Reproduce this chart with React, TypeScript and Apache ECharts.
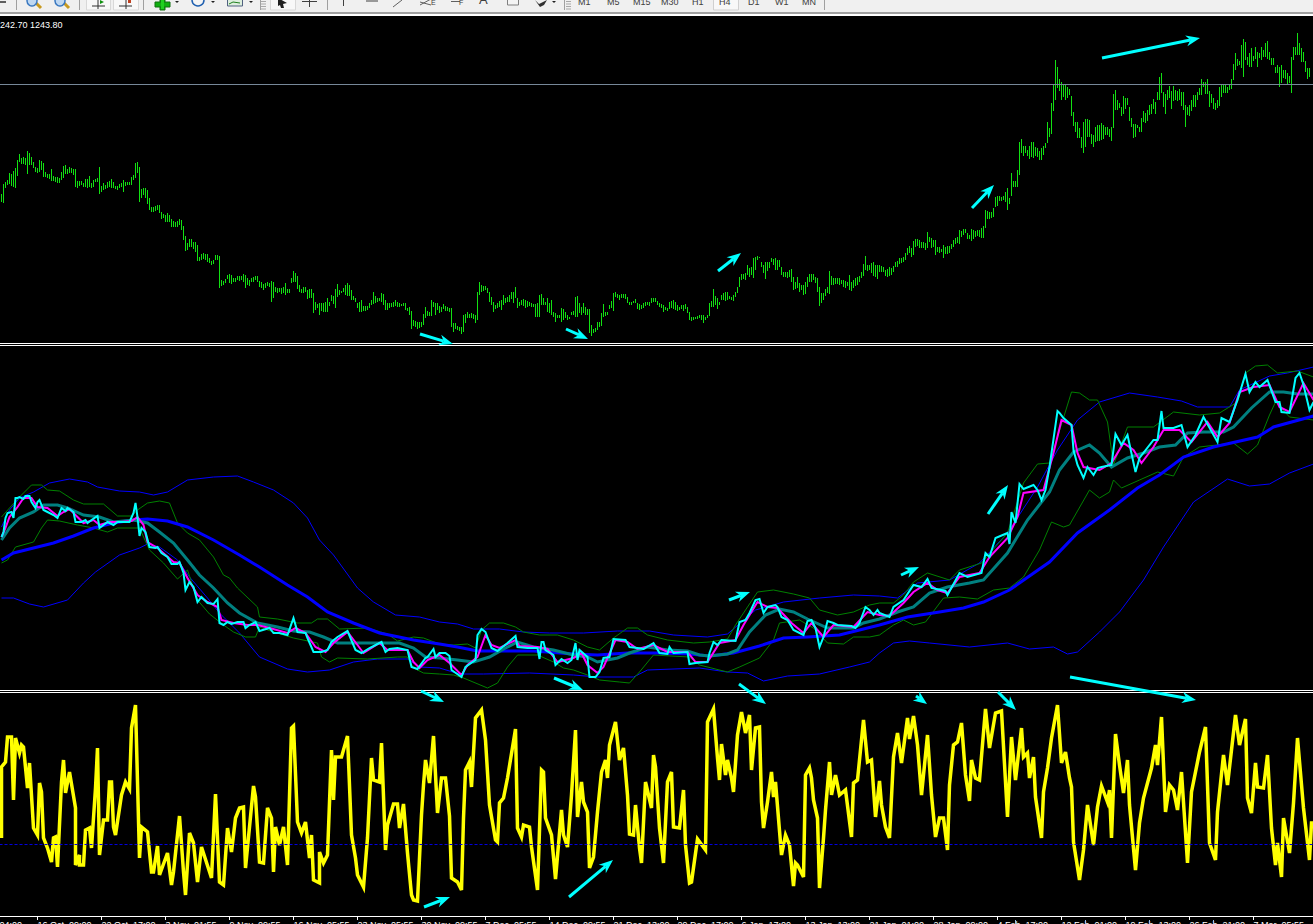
import React, { useEffect, useRef } from "react";
import * as echarts from "echarts";

// Price bars: [high, low], in points above the floor of the price pane, one pair per 4-hour bar.
const barsA = [
[149,141],[159,140],[161,155],[163,158],[170,159],[169,157],[172,156],[175,155],[183,167],[189,181],[185,179],[186,179],[185,178],[192,169],[190,178],[186,178],[181,175],[176,171],[175,170],[183,171],
[182,173],[180,166],[171,166],[169,165],[169,164],[174,162],[167,162],[166,161],[166,160],[165,160],[171,163],[177,165],[178,169],[174,169],[176,170],[175,170],[174,168],[174,156],[162,155],[162,157],
[162,158],[160,156],[164,156],[164,155],[167,156],[160,155],[163,156],[164,161],[165,161],[176,149],[157,151],[160,153],[158,154],[161,155],[162,156],[164,155],[161,155],[157,154],[157,153],[159,155],
[160,156],[163,151],[161,157],[161,158],[161,158],[166,158],[168,163],[180,165],[181,170],[176,141],[154,145],[155,148],[155,145],[153,139],[145,133],[136,131],[136,131],[137,132],[138,133],[138,130],
[131,124],[129,125],[128,121],[130,121],[128,121],[124,116],[122,116],[121,116],[122,116],[124,118],[123,113],[117,103],[107,92],[100,93],[104,96],[104,96],[101,94],[101,91],[98,82],[86,82],
[89,83],[90,84],[89,83],[89,81],[85,80],[82,78],[83,79],[88,83],[88,83],[87,55],[63,57],[62,58],[64,60],[68,64],[69,60],[68,59],[65,61],[65,61],[67,63],[67,62],
[67,63],[69,61],[68,55],[65,58],[63,57],[65,61],[66,61],[67,63],[67,61],[62,56],[61,55],[59,53],[60,55],[61,57],[60,56],[62,41],[61,45],[56,51],[55,50],[55,51],
[55,49],[56,50],[60,48],[54,50],[54,50],[65,60],[72,61],[70,61],[67,54],[58,51],[54,50],[56,50],[56,51],[53,44],[54,45],[54,45],[50,30],[41,33],[39,35],[40,28],
[40,32],[40,31],[41,31],[45,31],[41,37],[48,42],[47,39],[54,35],[59,46],[53,48],[52,50],[55,51],[58,48],[60,47],[58,47],[53,43],[47,43],[45,41],[40,35],[41,31],
[43,31],[37,32],[37,32],[37,33],[40,35],[43,38],[51,39],[47,40],[45,41],[45,42],[50,41],[49,38],[43,33],[40,33],[40,35],[40,36],[41,36],[43,37],[41,36],[40,36],
[39,37],[40,37],[40,33],[35,32],[36,28],[32,14],[23,17],[22,16],[21,14],[21,15],[21,16],[29,18],[36,25],[32,27],[31,27],[43,27],[41,36],[40,28],[40,33],[37,30],
[36,31],[39,34],[37,32],[36,32],[35,31],[35,16],[20,11],[20,14],[17,13],[16,12],[16,9],[28,11],[29,20],[31,25],[29,25],[30,25],[29,24],[28,20],[51,23],[61,48],
];
const barsB = [
[58,51],[57,52],[57,53],[55,50],[51,41],[46,38],[41,31],[38,34],[40,35],[42,36],[43,33],[48,38],[45,40],[46,41],[48,41],[51,44],[51,40],[56,45],[45,35],[41,37],
[43,38],[44,37],[43,35],[42,36],[41,37],[40,36],[39,36],[39,26],[40,26],[48,26],[49,38],[45,38],[41,38],[45,31],[40,30],[43,28],[31,26],[30,21],[28,25],[28,25],
[35,21],[34,23],[31,25],[28,23],[26,24],[31,28],[32,28],[46,26],[47,26],[40,30],[36,28],[40,30],[36,28],[34,28],[34,10],[18,7],[14,10],[15,11],[21,13],[21,16],
[30,17],[39,26],[31,27],[31,28],[38,34],[42,35],[50,32],[51,46],[49,45],[48,43],[49,45],[49,45],[49,44],[46,40],[41,38],[41,38],[42,40],[44,40],[40,34],[39,33],
[38,34],[40,35],[41,37],[41,38],[41,37],[45,40],[45,41],[45,41],[42,38],[40,36],[39,35],[38,31],[36,33],[35,32],[41,34],[42,35],[43,34],[41,33],[38,32],[36,33],
[38,34],[38,32],[39,34],[36,30],[31,23],[26,22],[26,23],[26,24],[27,24],[28,25],[28,23],[28,20],[26,23],[28,25],[40,27],[42,36],[54,36],[47,38],[45,34],[41,38],
[48,43],[50,43],[51,42],[51,43],[47,44],[46,43],[48,42],[51,46],[56,50],[66,56],[69,63],[69,64],[70,63],[78,68],[75,66],[76,68],[85,65],[86,73],[87,83],[86,85],
[81,76],[78,70],[81,64],[81,72],[81,75],[85,81],[84,78],[85,73],[83,73],[83,76],[76,68],[71,66],[71,66],[71,65],[73,66],[74,61],[66,53],[61,54],[66,55],[60,51],
[58,53],[58,48],[61,49],[66,56],[69,61],[69,61],[69,63],[66,60],[65,51],[56,37],[50,40],[50,43],[54,47],[56,50],[72,49],[67,58],[65,58],[65,59],[65,59],[65,58],
[63,59],[63,56],[62,55],[61,57],[68,53],[61,52],[63,55],[65,57],[66,58],[67,61],[71,65],[79,67],[87,73],[78,72],[78,73],[80,70],[81,67],[78,66],[78,64],[78,71],
[77,71],[76,71],[73,67],[74,66],[76,67],[75,68],[77,71],[81,76],[82,76],[85,79],[85,80],[86,81],[90,83],[95,88],[97,90],[95,86],[102,88],[104,96],[104,97],[103,95],
[101,95],[101,95],[100,93],[111,95],[106,101],[105,95],[103,96],[103,88],[96,91],[96,90],[94,91],[98,85],[96,89],[97,89],[97,90],[99,94],[103,96],[105,99],[106,100],[113,99],
[112,106],[114,108],[114,110],[110,104],[108,104],[114,102],[113,104],[112,106],[113,107],[113,106],[115,105],[117,105],[133,115],[132,124],[131,124],[131,125],[135,126],[146,136],[147,137],[147,142],
[146,142],[147,143],[151,141],[155,133],[145,139],[170,147],[162,156],[162,156],[173,156],[201,168],[204,190],[197,187],[197,190],[193,187],[197,184],[201,186],[201,185],[196,187],[195,186],
];
const barsC = [
[192,183],[195,183],[197,188],[200,195],[221,200],[215,206],[240,209],[258,232],[283,243],[276,255],[264,252],[261,243],[259,246],[258,243],[256,245],[254,248],[247,227],[231,217],[221,211],[221,205],
[215,205],[206,195],[221,190],[224,196],[224,206],[223,206],[209,199],[208,196],[216,201],[218,202],[218,202],[220,203],[218,204],[216,208],[216,208],[214,206],[216,202],[249,215],[253,233],[243,233],
[240,235],[236,227],[247,229],[245,234],[245,238],[236,222],[225,216],[219,205],[219,206],[218,215],[216,211],[225,211],[232,221],[230,220],[233,222],[238,228],[239,229],[244,234],[241,229],[251,243],
[266,243],[270,250],[251,236],[249,229],[253,243],[257,245],[252,234],[257,242],[253,243],[252,242],[254,243],[251,237],[251,233],[238,216],[236,228],[238,227],[243,232],[248,236],[248,236],[251,243],
[255,248],[264,248],[261,256],[261,249],[264,249],[252,236],[249,240],[245,234],[240,233],[243,235],[256,237],[258,246],[258,250],[258,250],[256,250],[258,253],[264,254],[279,263],[290,273],[284,277],
[282,278],[298,275],[304,266],[301,283],[286,278],[290,276],[295,276],[287,282],[296,284],[291,276],[290,285],[296,283],[293,286],[300,286],[302,284],[291,283],[285,278],[285,278],[276,270],[278,270],
[276,256],[278,260],[273,265],[273,264],[270,258],[267,260],[286,250],[296,283],[296,288],[310,288],[300,288],[295,281],[291,281],[282,271],[275,264],[275,266],
];
const lastPriceLevel = 258.5;

// Indicator pane: [bar, level] with level in points above the pane floor.
const closePts = [
[0,153],[1,158],[2,172],[3,177],[5,178],[6,172],[7,192],[8,192],[9,193],[11,191],[12,194],[14,194],[15,188],[17,182],[18,188],[19,190],[21,180],[23,178],[26,175],[28,172],[30,182],[32,179],[33,182],[36,178],[37,168],[40,168],[42,170],[43,167],[45,170],[48,174],[49,162],[51,165],[53,168],[56,165],[58,168],[64,168],[66,177],[67,187],[68,173],[69,154],[70,162],[72,158],[74,143],[77,142],[78,143],[80,137],[83,133],[85,126],[88,126],[89,128],[91,117],[92,100],[94,108],[96,103],[98,88],[100,93],[103,87],[106,86],[108,91],[109,67],[111,65],[113,68],[115,66],[118,68],[121,68],[122,62],[124,65],[127,68],[129,59],[134,62],[136,57],[139,57],[143,55],[146,72],[148,58],[152,57],[153,52],[156,38],[160,38],[163,40],[165,48],[168,53],[173,59],[177,40],[180,37],[184,42],[190,48],[192,38],[194,41],[198,42],[203,40],[205,23],[208,21],[212,32],[213,33],[216,41],[217,33],
[219,37],[222,37],[224,34],[225,20],[230,13],[232,23],[237,30],[238,55],[240,61],[242,58],[245,42],[248,39],[253,47],[257,54],[258,43],[263,42],[268,42],[269,31],[270,48],[271,48],[272,40],[276,35],[277,25],[280,31],[283,27],[285,30],[287,47],[288,30],[289,40],[293,33],[294,13],[297,13],[299,18],[301,32],[304,33],[306,51],[312,50],[314,43],[318,42],[321,41],[326,47],[329,37],[333,36],[334,43],[336,37],[343,38],[344,26],[347,27],[353,28],[354,37],[356,48],[358,45],[360,50],[367,49],[369,68],[372,70],[374,77],[377,90],[379,91],[381,77],[383,83],[387,85],[388,83],[390,73],[393,70],[396,60],[401,55],[403,69],[405,70],[407,62],[409,43],[411,53],[413,69],[416,67],[418,65],[425,64],[427,62],[429,67],[432,83],[434,80],[436,75],[438,80],
[439,77],[444,73],[446,83],[451,90],[456,105],[460,103],[463,111],[465,102],[472,99],[473,95],[479,117],[483,113],[490,117],[492,137],[494,133],[497,152],[503,157],[504,146],[505,178],[507,167],[509,206],[511,201],[516,205],[518,200],[520,190],[522,200],[524,223],[528,279],[529,277],[531,272],[535,265],[536,240],[538,225],[541,212],[543,223],[546,215],[548,222],[550,223],[555,225],[557,256],[560,245],[563,255],[567,218],[569,232],[576,250],[578,250],[580,279],[581,262],[586,262],[590,265],[593,243],[597,255],[601,273],[608,248],[610,272],[614,268],[618,290],[622,316],[624,298],[627,308],[629,303],[633,310],[637,288],[639,288],[640,278],[644,277],[647,312],[649,317],[651,305],[654,280],[656,288],
];
const fastPts = [
[0,153],[2,162],[4,173],[8,183],[11,192],[15,192],[18,183],[23,182],[28,174],[31,178],[34,181],[37,175],[41,167],[46,170],[49,165],[54,168],[59,168],[65,169],[68,173],[71,165],[73,148],[78,142],[82,135],[86,128],[89,127],[93,112],[98,95],[103,88],[108,83],[110,70],[116,67],[123,65],[128,65],[134,62],[143,57],[147,62],[152,57],[157,43],[162,38],[166,47],[173,58],[178,45],[181,37],[189,47],[193,40],[203,40],[206,28],[209,22],[213,30],
[219,35],[224,27],[230,15],[233,25],[238,33],[242,55],[245,45],[249,42],[257,50],[259,44],[268,43],[273,41],[278,28],[286,32],[290,37],[293,25],[298,17],[301,23],[307,50],[313,48],[318,41],[326,45],[333,38],[343,38],[347,28],[353,28],[359,47],[367,50],[371,65],[378,88],[383,83],[388,82],[395,67],[401,57],[405,67],[411,53],[416,65],[426,63],[433,78],[439,75],
[444,74],[451,87],[456,98],[463,107],[468,100],[473,97],[479,113],[489,117],[494,133],[503,152],[508,173],[511,197],[521,200],[526,237],[530,270],[535,265],[538,237],[541,223],[549,220],[555,227],[561,247],[566,240],[570,227],[576,243],[581,260],[589,260],[595,248],[603,268],[608,253],[614,267],[619,298],[626,303],[634,305],[639,283],[644,278],[651,307],[656,290],
];
const midPts = [
[0,150],[4,162],[9,172],[16,178],[21,185],[28,185],[33,182],[41,175],[49,173],[56,168],[66,170],[73,167],[79,158],[86,147],[93,130],[99,115],[106,102],[113,87],[119,77],[128,67],[138,63],[146,59],[154,58],[161,53],[168,47],[176,47],[189,47],[199,47],[206,42],[212,33],
[219,32],[228,30],[236,28],[244,33],[252,42],[258,48],[266,43],[276,40],[286,35],[293,33],[298,28],[308,32],[314,37],[323,43],[333,40],[343,39],[349,35],[354,34],[363,36],[368,40],[374,58],[382,75],[389,81],[396,78],[403,71],[413,62],[426,62],[431,67],[439,71],
[448,78],[456,83],[464,97],[473,103],[484,107],[491,110],[503,137],[513,170],[524,198],[529,220],[536,238],[544,245],[549,237],[555,223],[563,232],[571,237],[579,243],[587,245],[593,257],[601,258],[611,258],[616,263],[625,282],[634,298],[641,298],[648,296],[656,296],
];
const slowPts = [
[0,130],[6,137],[16,142],[26,147],[36,154],[46,162],[56,167],[66,170],[73,171],[83,169],[93,163],[106,150],[119,135],[129,123],[143,105],[153,93],[163,78],[176,67],[189,57],[206,50],[219,46],
[228,43],[238,39],[249,39],[266,39],[286,36],[298,35],[313,37],[329,37],[344,36],[354,34],[366,37],[379,44],[391,52],[403,53],[419,55],[439,65],
[453,73],[469,78],[481,82],[491,88],[504,100],[524,128],[538,157],[554,180],[568,202],[579,215],[591,233],[606,243],[628,253],[636,263],[656,274],
];
const slowUpper = [
[0,163],[4,180],[9,192],[16,198],[24,207],[34,211],[43,208],[48,203],[59,199],[69,198],[76,195],[83,198],[93,210],[106,213],[118,214],[126,208],[136,200],[146,187],[153,172],[159,150],[166,135],[178,102],[186,88],[197,75],[209,73],[219,68],
[228,66],[236,61],[249,61],[261,58],[274,57],[291,57],[308,59],[324,59],[336,55],[353,53],[363,56],[377,80],[391,88],[409,92],[426,95],[439,94],
[448,92],[458,107],[474,110],[489,127],[503,157],[518,203],[528,240],[538,270],[549,288],[564,297],[578,293],[590,289],[598,283],[614,283],[619,300],[634,314],[643,317],[656,323],
];
const slowLower = [
[0,92],[6,92],[14,86],[21,83],[33,90],[41,107],[47,118],[59,135],[69,142],[73,146],[79,143],[88,130],[94,113],[103,92],[109,77],[119,57],[129,33],[143,21],[153,18],[164,20],[176,28],[188,31],[203,31],[209,23],[219,22],
[229,16],[241,16],[264,17],[286,15],[298,13],[316,13],[323,20],[349,22],[363,18],[373,17],[381,9],[393,14],[409,16],[424,23],[434,28],[439,37],
[446,47],[454,49],[464,47],[484,43],[503,47],[514,41],[526,43],[533,36],[538,38],[549,58],[559,78],[571,110],[581,143],[596,188],[613,211],[624,204],[634,206],[644,217],[656,226],
];
const fastUpper = [
[0,173],[4,182],[9,193],[15,205],[20,205],[23,200],[29,199],[36,190],[41,186],[51,186],[58,174],[65,174],[68,180],[73,187],[79,189],[84,187],[88,167],[93,157],[99,150],[106,133],[111,115],[114,112],[118,102],[128,83],[129,73],[138,71],[148,67],[155,67],[158,71],[163,71],[169,61],[183,62],[193,56],[198,49],[206,53],[211,52],[219,46],
[226,45],[233,46],[237,42],[240,60],[244,67],[251,67],[257,63],[261,58],[269,55],[278,55],[286,50],[293,43],[299,40],[306,52],[313,62],[318,62],[323,55],[333,50],[346,47],[354,48],[363,51],[367,65],[378,98],[386,100],[396,96],[404,92],[409,80],[418,75],[426,78],[434,85],[439,87],
[446,87],[451,95],[456,108],[463,117],[474,110],[479,120],[490,127],[503,157],[511,207],[518,226],[524,227],[535,298],[539,297],[544,290],[548,290],[553,268],[556,225],[563,263],[576,263],[586,278],[599,275],[609,277],[618,288],[622,317],[627,324],[633,325],[638,317],[648,319],[656,313],
];
const fastLower = [
[0,127],[3,130],[7,143],[16,148],[20,162],[23,170],[29,169],[38,165],[46,162],[53,158],[58,162],[69,162],[74,140],[81,127],[88,111],[93,120],[98,90],[104,76],[111,65],[116,58],[122,53],[127,53],[129,63],[133,60],[146,52],[158,47],[160,33],[164,28],[168,32],[183,31],[198,33],[203,33],[206,22],[211,17],[219,16],
[226,15],[231,12],[243,2],[248,7],[253,23],[258,35],[268,35],[276,28],[281,22],[286,20],[293,15],[299,10],[309,8],[314,7],[319,18],[326,35],[344,33],[349,25],[363,18],[369,23],[379,32],[386,50],[389,67],[399,70],[406,62],[413,47],[421,46],[426,53],[434,53],[439,55],
[446,65],[451,70],[456,65],[462,68],[471,92],[479,93],[488,91],[496,100],[504,102],[511,113],[519,140],[525,168],[531,163],[534,165],[544,200],[549,192],[554,198],[556,210],[560,202],[569,210],[578,218],[586,214],[591,233],[599,243],[616,247],[623,236],[628,245],[634,275],[637,288],[644,273],[656,270],
];

// Oscillator pane: [bar, level]
const oscLeft = [
[0,78],[0,149],[2,154],[3,179],[5,179],[6,116],[7,178],[9,163],[10,171],[11,169],[13,128],[14,153],[16,88],[18,81],[19,133],[20,124],[21,78],[23,68],[25,54],[26,78],[27,79],[28,49],[30,134],[31,156],[32,123],[34,144],[37,108],[37,51],[39,61],[39,51],[41,51],[42,86],[44,88],[45,68],[47,128],[48,168],[49,61],[51,96],[53,96],[54,134],[55,134],[56,89],[57,81],[60,121],[62,134],[64,127],[65,188],[67,211],[69,58],[70,89],[73,84],[75,44],[76,44],[78,70],[79,41],[83,63],[85,31],[86,44],[89,100],[91,44],[92,21],[94,83],[96,73],[98,34],[100,69],[105,38],[107,122],[109,34],[111,31],[113,88],[115,64],[117,98],[119,108],[121,109],[122,48],[126,130],[127,119],[129,54],[131,53],[133,108],[135,98],[136,44],[137,89],[139,71],[141,89],[143,51],[145,188],[146,190],[148,94],[150,83],[152,94],[154,58],[155,81],[156,36],[159,33],[159,64],[161,53],[163,61],[165,166],[166,116],[167,159],[170,159],[173,180],[175,81],[177,58],[178,41],[181,29],[183,78],[185,158],[186,136],[189,134],[190,173],[192,66],[193,91],[196,112],[198,112],[199,88],[201,112],[203,63],[205,21],[206,16],[208,15],[210,101],[211,131],[212,156],[214,133],[216,180],[218,103],[220,138],[222,138],[224,100],[225,38],[228,34],[230,26],[231,98],[232,146],[234,154],[235,129],[237,198],[240,206],[242,176],[244,111],[247,76],[248,74],[249,113],[251,118],[253,138],[257,187],[258,88],[260,79],[261,91],[264,89],[265,69],[268,26],[270,146],[271,144],[272,98],[275,81],[277,37],[280,106],[281,81],[283,69],[285,121],[287,186],[288,99],[290,134],[291,114],[293,104],[294,48],[296,59],[298,104],[300,144],[302,156],[303,138],[304,171],[307,194],[309,156],[311,168],[313,121],[314,82],[316,81],[317,111],[319,68],[320,53],[322,134],[325,108],[326,161],
];
const oscRight = [
[327,149],[329,88],[331,53],[333,134],[335,144],[336,89],[339,88],[341,126],[342,71],[344,33],[345,34],[348,77],[352,66],[353,194],[356,207],[358,158],[359,136],[360,172],[362,141],[363,156],[365,138],[366,124],[368,181],[370,204],[372,183],[374,201],[375,146],[377,188],[379,189],[380,114],[381,88],[383,114],[385,144],[386,119],[387,134],[390,61],[392,81],[394,71],[396,30],[397,53],[398,51],[401,39],[402,141],[404,148],[405,138],[406,116],[408,98],[409,28],[411,78],[412,106],[414,154],[415,121],[417,141],[419,121],[422,126],[425,79],[426,133],[428,136],[431,196],[433,154],[435,156],[437,99],[439,135],[440,111],[442,89],[444,78],[446,159],[448,183],[450,153],[453,198],[454,177],[456,200],[458,171],[460,121],[463,181],[465,121],[467,79],[469,98],[471,98],[473,66],[474,131],[476,171],[478,174],[480,193],[482,141],[484,115],[485,156],[487,138],[489,136],[492,207],[494,168],[497,203],[500,205],[503,99],[505,179],[507,136],[510,188],[511,159],[513,163],[514,138],[516,159],[517,119],[520,78],[521,124],[523,148],[525,178],[528,211],[530,153],[532,164],[534,138],[535,129],[536,74],[539,36],[541,66],[543,111],[546,71],[548,109],[550,130],[553,114],[554,126],[555,78],[557,182],[559,151],[561,123],[563,156],[564,111],[567,46],[569,93],[571,118],[575,148],[577,171],[578,151],[580,199],[582,104],[584,131],[586,126],[588,106],[590,144],[593,53],[595,124],[599,164],[602,189],[604,73],[607,56],[608,104],[611,161],[613,131],[617,201],[619,171],[622,197],[623,118],[625,103],[627,153],[628,129],[631,128],[633,161],[635,88],[637,51],[638,73],[640,39],[641,98],[644,63],[646,113],[648,178],[651,108],[654,56],[655,93],[656,93],
];
const oscZeroLevel = 71.5;

// Time axis
const timeTickBars = [18,50,82,114,146,178,210,242,274,306,338,370,402,434,466,498,530,562,594,626];
const timeTickLabels = ["16 Oct  09:00","22 Oct  17:00","3 Nov  01:55","9 Nov  09:55","16 Nov  05:55","23 Nov  05:55","30 Nov  09:55","7 Dec  05:55","14 Dec  09:55","21 Dec  13:00","29 Dec  17:00","6 Jan  17:00","13 Jan  13:00","21 Jan  01:00","28 Jan  09:00","4 Feb  17:00","12 Feb  01:00","19 Feb  13:00","26 Feb  21:00","7 Mar  05:55"];
const headerText = "1242.70 1243.80";
const periodLabels = ["M1","M5","M15","M30","H1","H4","D1","W1","MN"];
const periodLabelX = [578,607,633,661,692,719,748,775,802];

const PRICE_BARS = [...barsA, ...barsB, ...barsC];
const OSC = [...oscLeft, ...oscRight];

const ARROWS: number[][] = [
  [1102,58,1200,38],[972,208,994,185],[718,271,741,253],[566,329,588,339],[420,334,453,344],
  [988,514,1008,485],[901,575,919,567],[729,600,750,592],
  [421,691,444,702],[554,678,583,690],[739,684,766,704],[916,696,927,704],[998,692,1016,710],[1070,677,1196,700],
  [424,907,450,897],[569,897,613,860],
];

function arrowEls(a: number[]) {
  const [x1, y1, x2, y2] = a;
  const len = Math.hypot(x2 - x1, y2 - y1);
  const ux = (x2 - x1) / len, uy = (y2 - y1) / len;
  const nx = -uy, ny = ux;
  const L = Math.min(14, len), W = 5.5;
  const bx = x2 - ux * L, by = y2 - uy * L;
  const mx = x2 - ux * L * 0.7, my = y2 - uy * L * 0.7;
  return [
    { type: "line", z: 100, shape: { x1, y1, x2: mx, y2: my }, style: { stroke: "#00FFFF", lineWidth: 3 } },
    { type: "polygon", z: 100, shape: { points: [[x2, y2], [bx + nx * W, by + ny * W], [mx, my], [bx - nx * W, by - ny * W]] }, style: { fill: "#00FFFF" } },
  ];
}

function rect(x: number, y: number, width: number, height: number, fill: string, stroke?: string): any {
  return { type: "rect", z: 90, shape: { x, y, width, height }, style: { fill, stroke: stroke || undefined, lineWidth: stroke ? 1 : 0 } };
}
function seg(x1: number, y1: number, x2: number, y2: number, stroke: string, lineWidth = 1): any {
  return { type: "line", z: 91, shape: { x1, y1, x2, y2 }, style: { stroke, lineWidth } };
}
function dot(cx: number, cy: number, r: number, fill: string, stroke: string): any {
  return { type: "circle", z: 91, shape: { cx, cy, r }, style: { fill, stroke, lineWidth: 1.5 } };
}

function toolbar(): any[] {
  const els: any[] = [
    rect(0, 0, 1313, 12, "#F0F0F0"),
    rect(0, 12, 1313, 2, "#A0A0A0"),
    rect(0, 14, 1313, 2, "#FFFFFF"),
  ];
  [16, 79, 143, 260, 327, 564, 824].forEach((x) => els.push(seg(x + 0.5, 0, x + 0.5, 10, "#A0A0A0")));
  els.push(rect(86.5, -2, 24, 12, "#F8F8F8", "#D8D8D8"), rect(113.5, -2, 25, 12, "#F8F8F8", "#D8D8D8"), rect(270.5, -2, 25, 12, "#F8F8F8", "#D8D8D8"), rect(713.5, -2, 25, 12, "#F8F8F8", "#D0D0D0"));
  els.push(seg(0, 2, 6, 2, "#303030", 1.5));
  [33, 61].forEach((cx) => {
    els.push(seg(cx + 3, 3, cx + 8, 8, "#C89A20", 3), dot(cx - 1, 1, 5, "#BFD8F2", "#3A78C0"));
  });
  els.push(seg(92, 6, 105, 6, "#303030"), seg(98, 0, 98, 9, "#303030"), { type: "polygon", z: 92, shape: { points: [[100, 0], [104, 2], [100, 4]] }, style: { fill: "#109010" } });
  els.push(seg(119, 6, 132, 6, "#303030"), seg(126, 0, 126, 9, "#303030"), rect(128, 0, 3, 3, "#C04020"));
  els.push(rect(160, 0, 5, 10, "#10B010", "#107010"), rect(155, 2, 15, 5, "#10B010", "#107010"), rect(161, 0, 3, 9, "#20D020"));
  els.push(dot(198, 0, 6, "#F4F4F4", "#2060B0"));
  els.push(rect(227.5, -1, 15, 7, "#DDEEDD", "#506080"), seg(229, 4, 233, 2, "#208020"), seg(233, 2, 240, 3, "#208020"));
  [177, 213, 251, 554].forEach((x) => els.push({ type: "polygon", z: 92, shape: { points: [[x - 2, 1], [x + 2, 1], [x, 3]] }, style: { fill: "#202020" } }));
  [263, 568].forEach((x) => { for (let i = 0; i < 4; i++) els.push(seg(x - 2, 1.5 + i * 2.5, x + 3, 1.5 + i * 2.5, "#A8A8A8")); });
  els.push({ type: "polygon", z: 92, shape: { points: [[278, -2], [287, 3], [283, 4], [284, 8], [281, 8], [280, 5], [278, 6]] }, style: { fill: "#202020" } });
  els.push(seg(309.5, 0, 309.5, 7, "#404040"), seg(302, 1.5, 317, 1.5, "#404040"));
  els.push(seg(343.5, 0, 343.5, 6, "#404040"), seg(366, 1, 378, 1, "#404040"), seg(393, 7, 402, 0, "#606060"));
  els.push(seg(420, 5, 431, -1, "#606060"), seg(420, 2, 431, 5, "#606060"));
  els.push(seg(451, 1.5, 460, 1.5, "#606060"));
  const txt = (t: string, x: number, fill = "#404040", size = 9) => ({ type: "text", z: 93, x, y: 6, style: { text: t, fill, fontFamily: "Liberation Sans", fontSize: size, verticalAlign: "bottom", align: "left" } });
  els.push(txt("E", 431, "#404040", 7), txt("F", 459, "#404040", 7), txt("A", 479, "#404040", 13));
  els.push(rect(507.5, -2, 11, 7, "#F4F4F4", "#808080"));
  els.push({ type: "polygon", z: 92, shape: { points: [[535, 0], [539, 4], [547, 0], [544, 5], [540, 7]] }, style: { fill: "#303030" } });
  periodLabels.forEach((t, i) => els.push(txt(t, periodLabelX[i])));
  return els;
}

export default function App() {
  const ref = useRef<HTMLDivElement | null>(null);
  useEffect(() => {
    document.body.style.margin = "0";
    document.body.style.background = "#000";
    document.documentElement.style.overflow = "hidden";
    const chart = echarts.init(ref.current!, undefined, { renderer: "svg" });
    const xBase = { type: "value", min: -0.75, max: 655.75, splitLine: { show: false } };
    const lineSeries = (name: string, data: number[][], color: string, width: number, pane: number, extra: any = {}) => ({
      name, type: "line", data, xAxisIndex: pane, yAxisIndex: pane, showSymbol: false, symbol: "none", silent: true,
      lineStyle: { color, width, join: "miter", ...extra }, itemStyle: { color }, emphasis: { disabled: true }, animation: false,
    });
    const BLUE_THIN = "#0000FF", GREEN_THIN = "#008000";
    chart.setOption({
      animation: false,
      backgroundColor: "#000000",
      grid: [
        { left: 0, width: 1313, top: 17, height: 326, outerBoundsMode: "none" },
        { left: 0, width: 1313, top: 346, height: 344, outerBoundsMode: "none" },
        { left: 0, width: 1313, top: 693, height: 223, outerBoundsMode: "none" },
      ],
      xAxis: [
        { ...xBase, gridIndex: 0, show: false },
        { ...xBase, gridIndex: 1, show: false },
        {
          ...xBase, gridIndex: 2, show: true,
          axisLine: { show: true, onZero: false, lineStyle: { color: "#FFFFFF", width: 1 } },
          axisTick: { show: true, length: 4, inside: false, customValues: timeTickBars, lineStyle: { color: "#FFFFFF" } },
          axisLabel: {
            show: true, customValues: timeTickBars, color: "#FFFFFF", fontFamily: "Liberation Sans", fontSize: 9, margin: 4, align: "left",
            hideOverlap: false, formatter: (v: number) => timeTickLabels[timeTickBars.indexOf(Math.round(v))] ?? "",
          },
        },
      ],
      yAxis: [
        { type: "value", gridIndex: 0, min: 0, max: 326, show: false, splitLine: { show: false } },
        { type: "value", gridIndex: 1, min: 0, max: 344, show: false, splitLine: { show: false } },
        { type: "value", gridIndex: 2, min: 0, max: 223, show: false, splitLine: { show: false } },
      ],
      series: [
        {
          name: "Price", type: "custom", xAxisIndex: 0, yAxisIndex: 0, silent: true, clip: true,
          data: PRICE_BARS.map((b, i) => [i, b[0], b[1]]),
          encode: { x: 0, y: [1, 2] },
          renderItem: (_p: any, api: any) => {
            const a = api.coord([api.value(0), api.value(1)]);
            const b = api.coord([api.value(0), api.value(2)]);
            return { type: "line", shape: { x1: a[0], y1: a[1], x2: b[0], y2: b[1] }, style: { stroke: "#12E012", lineWidth: 1 } };
          },
        },
        lineSeries("Last", [[-1, lastPriceLevel], [656, lastPriceLevel]], "#778899", 1, 0),
        lineSeries("Slow upper", slowUpper, BLUE_THIN, 1, 1),
        lineSeries("Slow lower", slowLower, BLUE_THIN, 1, 1),
        lineSeries("Fast upper", fastUpper, GREEN_THIN, 1, 1),
        lineSeries("Fast lower", fastLower, GREEN_THIN, 1, 1),
        lineSeries("Slow", slowPts, "#0000FF", 3, 1),
        lineSeries("Mid", midPts, "#008080", 3, 1),
        lineSeries("Fast", fastPts, "#FF00FF", 2, 1),
        lineSeries("Close", closePts, "#00FFFF", 2, 1),
        lineSeries("Oscillator", OSC, "#FFFF00", 3.5, 2),
        lineSeries("Zero", [[-1, oscZeroLevel], [656, oscZeroLevel]], "#0000E0", 1, 2, { type: [3, 2] }),
      ],
      graphic: {
        elements: [
          ...toolbar(),
          rect(0, 343, 1313, 1, "#FFFFFF"),
          rect(0, 345, 1313, 1, "#FFFFFF"),
          rect(0, 690, 1313, 1, "#FFFFFF"),
          rect(0, 692, 1313, 1, "#FFFFFF"),
          { type: "text", z: 95, x: -5, y: 20, style: { text: headerText, fill: "#FFFFFF", fontFamily: "Liberation Sans", fontSize: 9, verticalAlign: "top" } },
          { type: "text", z: 95, x: -27, y: 920, style: { text: "9 Oct  04:00", fill: "#FFFFFF", fontFamily: "Liberation Sans", fontSize: 9, verticalAlign: "top" } },
          ...[1015, 1085, 1149, 1213].map((x) => rect(x, 920, 1, 4, "#9FC0E8")),
          ...ARROWS.flatMap(arrowEls),
        ],
      },
    } as any);
    return () => chart.dispose();
  }, []);
  return <div ref={ref} style={{ width: 1313, height: 924, background: "#000" }} />;
}
